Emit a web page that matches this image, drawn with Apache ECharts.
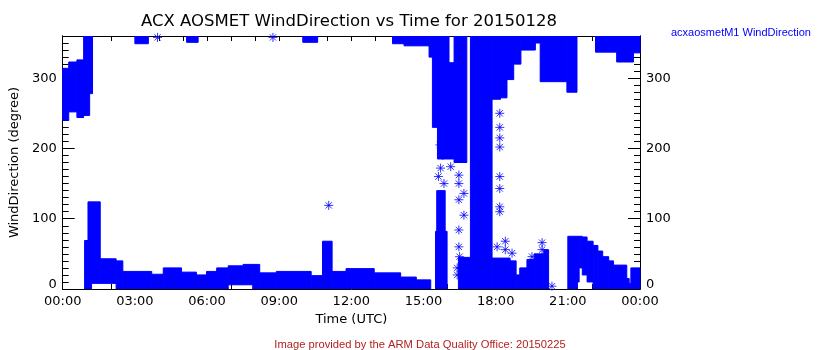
<!DOCTYPE html>
<html>
<head>
<meta charset="utf-8">
<script src="https://cdn.jsdelivr.net/npm/echarts@6/dist/echarts.min.js"></script>
<style>html,body{margin:0;padding:0;background:#fff}#c{width:840px;height:350px}</style>
</head>
<body>
<div id="c"></div>
<script>
// Time in hours (UTC), wind direction in degrees.
// Bands: [startHour, endHour, lowDeg, highDeg] — dense runs of samples
var lowBand = [
  [0.91,1.05,0,69],[1.05,1.2,0,124],[1.2,1.56,8,124],[1.56,2.22,8,43],[2.22,2.5,0,40],
  [2.5,3.7,0,25],[3.7,4.18,0,21],[4.18,4.94,0,30],[4.94,5.56,0,24],[5.56,5.98,0,20],
  [5.98,6.4,0,25],[6.4,6.88,0,30],[6.88,7.5,6,33],[7.5,7.9,6,35],[7.9,8.19,0,35],
  [8.19,8.88,0,23],[8.88,10.33,0,25],[10.33,10.8,0,19],[10.8,11.2,0,68],[11.2,11.78,0,25],
  [11.78,12.95,0,29],[12.95,14.05,0,23],[14.05,14.7,0,17],[14.7,15.3,0,13],
  [15.5,15.98,0,82],[15.55,15.9,82,140],[16.45,16.95,0,45],[16.95,17.85,0,360],
  [17.85,18.6,0,44],[18.6,18.85,0,40],[18.85,19.0,0,20],[19.0,19.3,0,30],[19.3,19.6,0,42],
  [19.6,20.0,0,50],[20.0,20.2,0,56],[21.0,21.4,0,75],[21.4,21.47,10,75],[21.47,21.6,30,75],
  [21.6,21.8,20,74],[21.8,22.05,10,68],[22.05,22.25,0,62],[22.25,22.45,0,54],[22.45,22.7,0,46],
  [22.7,22.9,0,40],[22.9,23.45,0,34],[23.45,23.55,0,15],[23.55,23.62,0,8],[23.62,24,0,30]
];
var highBand = [
  [0,0.25,240,314],[0.25,0.59,252,323],[0.59,0.87,244,326],[0.87,1.12,247,360],[1.12,1.24,278,360],
  [3.0,3.56,349,360],[5.15,5.63,351,360],[9.98,10.6,351,360],[13.71,14.19,349,360],[14.19,15.23,346,360],
  [15.23,15.37,330,360],[15.37,15.58,230,360],[15.58,16.06,185,360],[16.06,16.27,185,322],[16.27,16.8,180,360],
  [17.85,18.2,270,360],[18.2,18.47,272,360],[18.47,18.75,298,360],[18.75,19.05,320,360],[19.05,19.65,340,360],
  [19.65,19.85,350,360],[19.85,20.96,295,360],[20.96,21.38,280,360],[22.15,23.03,337,360],[23.03,23.73,323,360],
  [23.73,24,336,360]
];
// Isolated samples drawn as asterisks: [hour, degree]
var stars = [
  [3.94,358],[8.74,358],[11.06,119],
  [15.62,160],[15.71,172],[15.8,190],[15.68,205],[15.85,150],
  [16.13,174],[16.47,162],[16.47,150],[16.68,136],[16.47,127],[16.68,105],[16.47,84],
  [16.47,60],[16.5,46],[16.4,30],[16.4,20],
  [18.17,250],[18.17,230],[18.17,215],[18.17,202],[18.17,160],[18.17,143],[18.17,117],[18.17,110],
  [18.06,60],[18.4,68],[18.4,56],[18.68,51],
  [19.51,46],[19.93,66],[19.93,56],[20.34,4]
];
var xTickLabels = ['00:00','03:00','06:00','09:00','12:00','15:00','18:00','21:00','00:00'];
var yTickLabels = ['0','100','200','300'];

var FONT = 'DejaVu Sans';
var BLUE = '#0000ff';
var chart = echarts.init(document.getElementById('c'), null, {renderer: 'canvas'});

function xAxisDef(pos, showLabel) {
  return {
    type: 'value', min: 0, max: 24, interval: 3, position: pos,
    axisLine: {show: true, onZero: false, lineStyle: {color: '#000', width: 1}},
    axisTick: {show: true, inside: true, length: 5, lineStyle: {color: '#000'}},
    minorTick: {show: true, splitNumber: 3, length: 5, lineStyle: {color: '#000'}},
    splitLine: {show: false}, minorSplitLine: {show: false},
    axisLabel: {show: showLabel, color: '#000', fontFamily: FONT, fontSize: 13, margin: 6,
      formatter: function (v) { return xTickLabels[Math.round(v / 3)]; }},
    name: showLabel ? 'Time (UTC)' : '', nameLocation: 'middle', nameGap: 22,
    nameTextStyle: {color: '#000', fontFamily: FONT, fontSize: 13}
  };
}
function yAxisDef(pos, major, showName) {
  return {
    type: 'value', min: 0, max: 360, interval: major ? 100 : 10, position: pos,
    axisLine: {show: true, onZero: false, lineStyle: {color: '#000', width: 1}},
    axisTick: {show: true, inside: true, length: major ? 12 : 6, lineStyle: {color: '#000'}},
    splitLine: {show: false},
    axisLabel: {show: major, color: '#000', fontFamily: FONT, fontSize: 13, margin: 6, showMaxLabel: false,
      formatter: function (v) {
        if (v === 0) return '{z|' + yTickLabels[0] + '}';
        return v % 100 === 0 && v < 360 ? yTickLabels[v / 100] : '';
      },
      rich: {z: {color: '#000', fontFamily: FONT, fontSize: 13, padding: [0, 0, 8, 0]}}},
    name: showName ? 'WindDirection (degree)' : '', nameLocation: 'middle', nameGap: 40, nameRotate: 90,
    nameTextStyle: {color: '#000', fontFamily: FONT, fontSize: 13}
  };
}

function bandRender(params, api) {
  var a = api.coord([api.value(0), api.value(3)]);
  var b = api.coord([api.value(1), api.value(2)]);
  return {type: 'rect', shape: {x: a[0], y: a[1], width: b[0] - a[0], height: b[1] - a[1]},
    style: {fill: BLUE, stroke: BLUE, lineWidth: 1}};
}

chart.setOption({
  animation: false,
  backgroundColor: '#fff',
  grid: {left: 61, right: 200, top: 36, bottom: 61, containLabel: false},
  xAxis: [xAxisDef('bottom', true), xAxisDef('top', false)],
  yAxis: [yAxisDef('left', true, true), yAxisDef('left', false, false),
          yAxisDef('right', true, false), yAxisDef('right', false, false)],
  series: [
    {type: 'custom', name: 'low', renderItem: bandRender, data: lowBand, clip: true,
     encode: {x: [0, 1], y: [2, 3]}, xAxisIndex: 0, yAxisIndex: 0},
    {type: 'custom', name: 'high', renderItem: bandRender, data: highBand, clip: true,
     encode: {x: [0, 1], y: [2, 3]}, xAxisIndex: 0, yAxisIndex: 0},
    {type: 'scatter', name: 'acxaosmetM1 WindDirection', data: stars, clip: true,
     xAxisIndex: 0, yAxisIndex: 0, symbolSize: 9,
     symbol: 'path://M0,-10L0,10M-10,0L10,0M-7,-7L7,7M-7,7L7,-7',
     itemStyle: {color: 'rgba(0,0,0,0)', borderColor: BLUE, borderWidth: 1}}
  ],
  graphic: [
    {type: 'text', x: 349, y: 22, style: {text: 'ACX AOSMET WindDirection vs Time for 20150128',
      fill: '#000', font: '16.5px "DejaVu Sans"', textAlign: 'center', textVerticalAlign: 'middle'}},
    {type: 'text', x: 671, y: 33, style: {text: 'acxaosmetM1 WindDirection',
      fill: BLUE, font: '11px "Liberation Sans"', textAlign: 'left', textVerticalAlign: 'middle'}},
    {type: 'text', x: 420, y: 345, style: {text: 'Image provided by the ARM Data Quality Office: 20150225',
      fill: '#b22222', font: '11.2px "Liberation Sans"', textAlign: 'center', textVerticalAlign: 'middle'}}
  ]
});
</script>
</body>
</html>
